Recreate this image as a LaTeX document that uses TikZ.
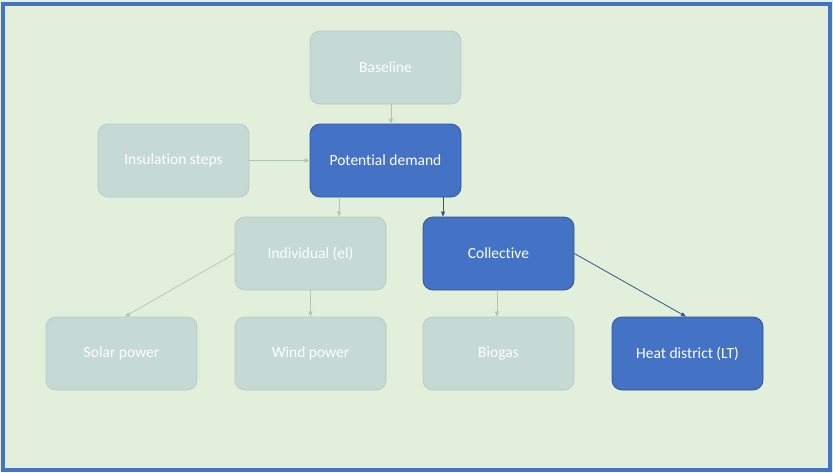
\documentclass[tikz,border=0pt]{standalone}
\usepackage{fontspec}
\setmainfont{Carlito}[Ligatures={NoCommon}]
\usetikzlibrary{arrows.meta}
\definecolor{bgc}{HTML}{E2EFDA}
\definecolor{framec}{HTML}{4472C4}
\definecolor{greyfill}{HTML}{C5D9D5}
\definecolor{greyline}{HTML}{B5CCC8}
\definecolor{bluefill}{HTML}{4472C4}
\definecolor{blueline}{HTML}{2F5597}
\definecolor{greyarrow}{HTML}{AFC6B3}
\begin{document}
\begin{tikzpicture}[x=1pt,y=-1pt,
  box/.style={rectangle, rounded corners=10pt, minimum width=151pt, minimum height=73pt, inner sep=0pt, font=\fontsize{15.5}{18}\selectfont, text=white, line width=0.8pt},
  greybox/.style={box, fill=greyfill, draw=greyline},
  bluebox/.style={box, fill=bluefill, draw=blueline},
  garrow/.style={draw=greyarrow, line width=0.7pt, -{Triangle[length=5pt,width=4pt]}},
  barrow/.style={draw=blueline, line width=0.8pt, -{Triangle[length=5pt,width=4pt]}}]
\useasboundingbox (0,0) rectangle (833,472);
\fill[bgc] (0,0) rectangle (833,472);
\draw[framec, line width=4pt] (3,4) rectangle (830,470);
\node[greybox] (base) at (385.5,67.5) {Baseline};
\node[bluebox] (pot) at (385.5,160.5) {Potential demand};
\node[greybox] (ins) at (173.5,160.5) {Insulation steps};
\node[greybox] (ind) at (310.5,253.5) {Individual (el)};
\node[bluebox] (col) at (498.5,253.5) {Collective};
\node[greybox] (sol) at (121.5,353.5) {Solar power};
\node[greybox] (wind) at (310.5,353.5) {Wind power};
\node[greybox] (bio) at (498.5,353.5) {Biogas};
\node[bluebox] (heat) at (687.5,353.5) {Heat district (LT)};
\draw[garrow] (base.south -| 391,0) -- (pot.north -| 391,0);
\draw[garrow] (ins.east) -- (pot.west);
\draw[garrow] (pot.south -| 339,0) -- (ind.north -| 339,0);
\draw[barrow] (pot.south -| 443,0) -- (col.north -| 443,0);
\draw[garrow] (ind.west) -- (sol.north -| 125,0);
\draw[garrow] (ind.south) -- (wind.north);
\draw[garrow] (col.south -| 497,0) -- (bio.north -| 497,0);
\draw[barrow] (col.east) -- (heat.north -| 686,0);
\end{tikzpicture}
\end{document}
